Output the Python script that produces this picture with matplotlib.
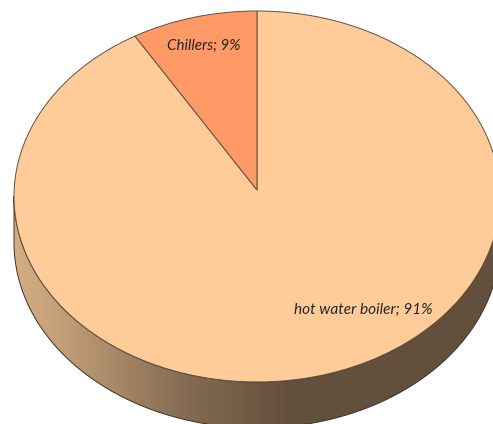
import numpy as np
import matplotlib
matplotlib.use('Agg')
import matplotlib.pyplot as plt
from matplotlib.colors import LinearSegmentedColormap
from matplotlib.patches import PathPatch
from matplotlib.path import Path

labels = ['hot water boiler', 'Chillers']
shares = [91, 9]
colors = ['#FFCC99', '#FF9966']

W, H = 493, 424
cx, cy = 257, 196.5
rx, ry = 243, 185.5
depth = 46
tip_y = 190
squeeze = 0.93  # the 3D view makes the small slice look narrower

fig = plt.figure(figsize=(W / 100, H / 100), dpi=100)
ax = fig.add_axes([0, 0, 1, 1])

# pie in unit coords, squashed into an ellipse by the axis limits
wedges, _ = ax.pie(shares, colors=colors, startangle=90, counterclock=False, radius=1,
                   wedgeprops={'edgecolor': '#5f5042', 'linewidth': 0.7, 'zorder': 3})

# move the shared edge and the tip to where the perspective puts them
edge = wedges[0].theta1 - (1 - squeeze) * (wedges[1].theta2 - wedges[1].theta1)
wedges[0].set_theta1(edge)
wedges[1].set_theta2(edge)
for w in wedges:
    v = w.get_path().vertices
    v[np.hypot(v[:, 0], v[:, 1]) < 1e-6, 1] = (cy - tip_y) / ry

ax.set_aspect('auto')
ax.axis('off')

# side wall of the disc
d = depth / ry
t = np.linspace(np.pi, 2 * np.pi, 300)
top_x, top_y = np.cos(t), np.sin(t)
verts = np.r_[np.c_[top_x, top_y], np.c_[top_x[::-1], top_y[::-1] - d], [[top_x[0], top_y[0]]]]
band = Path(verts)
wall = PathPatch(band, facecolor='none', edgecolor='#3a3028', linewidth=0.7, zorder=2)
ax.add_patch(wall)

cmap = LinearSegmentedColormap.from_list('wall', [(0, '#D4AE84'), (0.11, '#C09C76'), (0.35, '#856C52'),
                                                  (0.57, '#63503C'), (1, '#63503C')])
img = ax.imshow(np.linspace(0, 1, 256)[None, :], cmap=cmap, aspect='auto', zorder=1,
                extent=(-1, 1, -1 - d, 0))
img.set_clip_path(PathPatch(band, transform=ax.transData))
ax.set_xlim((0 - cx) / rx, (W - cx) / rx)
ax.set_ylim((cy - H) / ry, (cy - 0) / ry)

ax.text((204 - cx) / rx, (cy - 45.5) / ry, f'{labels[1]}; {shares[1]}%', family='Lato', style='italic',
        fontsize=10.9, color='#262626', ha='center', va='center', zorder=4)
ax.text((363 - cx) / rx, (cy - 309.5) / ry, f'{labels[0]}; {shares[0]}%', family='Lato', style='italic',
        fontsize=11.1, color='#262626', ha='center', va='center', zorder=4)

fig.savefig('out.png', dpi=100)
